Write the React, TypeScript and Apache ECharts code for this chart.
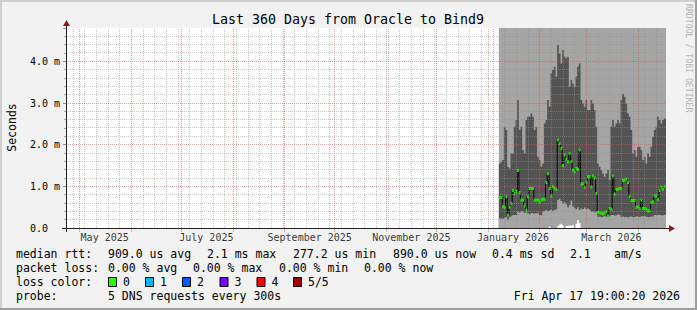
import React, { useEffect, useRef } from 'react';
import * as echarts from 'echarts';

const MONO = '"DejaVu Sans Mono", monospace';
const DAY = 86400000;
const START = Date.UTC(2025, 3, 22, 19, 0, 0);
const END = Date.UTC(2026, 3, 17, 19, 0, 0);
const DATA_START = Date.UTC(2026, 0, 7, 12, 0, 0);

const title = 'Last 360 Days from Oracle to Bind9';
const yUnitTitle = 'Seconds';
const monthLabels = ['May 2025', 'July 2025', 'September 2025', 'November 2025', 'January 2026', 'March 2026'];
const monthLabelYM = [[2025, 4], [2025, 6], [2025, 8], [2025, 10], [2026, 0], [2026, 2]];

// top of the dark smoke band (ms), one value per day from Jan 7 2026
const smokeHigh = [
  1.55, 1.59, 1.63, 2.43, 2.35, 1.47, 1.43, 1.79, 1.79, 2.43,
  2.59, 3.07, 2.35, 2.43, 1.87, 1.79, 2.59, 2.67, 2.67, 2.75,
  2.67, 2.35, 2.43, 1.71, 1.63, 1.47, 1.55, 2.51, 2.59, 3.07,
  2.91, 3.71, 3.79, 3.87, 3.63, 4.39, 4.19, 3.95, 4.27, 4.11,
  4.07, 4.11, 3.39, 3.55, 3.47, 3.39, 3.63, 3.87, 3.95, 3.07,
  2.99, 2.91, 3.07, 2.83, 2.83, 3.07, 2.99, 2.83, 2.43, 1.55,
  1.47, 1.39, 1.31, 1.23, 1.31, 1.39, 1.15, 2.43, 2.59, 2.43,
  2.51, 2.59, 2.51, 3.07, 3.22, 3.15, 2.99, 2.75, 2.67, 2.35,
  1.79, 1.87, 1.71, 1.95, 1.95, 1.87, 1.63, 1.71, 1.55, 1.79,
  1.71, 1.95, 2.19, 2.35, 2.43, 2.67, 2.59, 2.51, 2.59, 2.63,
];
// top of the lower light smoke band (ms)
const smokeLow = [
  0.23, 0.23, 0.22, 0.24, 0.26, 0.20, 0.26, 0.28, 0.31, 0.31,
  0.31, 0.39, 0.37, 0.40, 0.39, 0.36, 0.38, 0.35, 0.33, 0.36,
  0.35, 0.34, 0.36, 0.35, 0.31, 0.30, 0.39, 0.41, 0.43, 0.40,
  0.42, 0.44, 0.41, 0.43, 0.45, 0.67, 0.70, 0.65, 0.59, 0.62,
  0.57, 0.50, 0.55, 0.66, 0.52, 0.48, 0.45, 0.50, 0.43, 0.47,
  0.45, 0.49, 0.46, 0.47, 0.44, 0.39, 0.40, 0.38, 0.39, 0.27,
  0.28, 0.26, 0.27, 0.29, 0.27, 0.26, 0.28, 0.31, 0.32, 0.30,
  0.31, 0.33, 0.31, 0.27, 0.28, 0.26, 0.27, 0.25, 0.27, 0.28,
  0.26, 0.27, 0.28, 0.27, 0.26, 0.28, 0.27, 0.29, 0.27, 0.26,
  0.27, 0.28, 0.27, 0.31, 0.30, 0.32, 0.31, 0.30, 0.31, 0.32,
];
// white gap at the very bottom (ms)
const smokeFloor = [
  0, 0, 0, 0, 0, 0, 0, 0, 0, 0,
  0, 0, 0, 0, 0, 0, 0, 0, 0, 0,
  0, 0, 0, 0, 0, 0, 0, 0, 0, 0,
  0.03, 0, 0, 0, 0, 0.04, 0.08, 0.10, 0.06, 0,
  0.05, 0.04, 0.06, 0.05, 0.07, 0, 0.10, 0.19, 0.12, 0,
  0, 0, 0, 0, 0, 0, 0, 0, 0, 0,
  0, 0, 0, 0, 0, 0, 0, 0, 0, 0,
  0, 0, 0, 0, 0, 0, 0, 0, 0, 0,
  0, 0, 0, 0, 0, 0, 0, 0, 0, 0,
  0, 0, 0, 0, 0, 0, 0, 0, 0, 0,
];
// median rtt (ms)
const medianRtt = [
  0.73, 0.73, 0.51, 0.50, 0.75, 0.31, 0.50, 0.59, 0.90, 0.83,
  0.88, 1.38, 0.85, 0.67, 0.67, 0.53, 0.43, 0.75, 0.95, 0.95,
  0.95, 0.67, 0.67, 0.67, 0.63, 0.67, 0.69, 0.69, 1.09, 1.30,
  0.95, 0.77, 0.99, 0.95, 0.93, 2.11, 2.03, 1.91, 1.50, 1.75,
  1.65, 1.59, 1.79, 1.59, 1.39, 1.35, 1.43, 1.41, 1.87, 1.06,
  1.06, 0.98, 1.10, 1.23, 1.23, 0.99, 1.25, 1.20, 0.83, 0.38,
  0.37, 0.35, 0.34, 0.36, 0.39, 0.29, 0.47, 0.45, 1.25, 0.82,
  0.93, 0.93, 0.95, 0.95, 1.14, 1.15, 1.17, 1.09, 0.75, 0.66,
  0.66, 0.66, 0.50, 0.51, 0.47, 0.67, 0.47, 0.47, 0.45, 0.41,
  0.41, 0.61, 0.63, 0.77, 0.77, 0.69, 0.90, 0.98, 0.93, 0.99,
];

const legendRows = [
  { y: 254, items: [[16, 'median rtt:'], [108, '909.0 us avg'], [207, '2.1 ms max'], [293, '277.2 us min'], [393, '890.0 us now'], [492, '0.4 ms sd'], [570, '2.1'], [614, 'am/s']] },
  { y: 268, items: [[16, 'packet loss:'], [108, '0.00 % avg'], [193, '0.00 % max'], [279, '0.00 % min'], [364, '0.00 % now']] },
  { y: 282, items: [[16, 'loss color:']] },
  { y: 296, items: [[16, 'probe:'], [108, '5 DNS requests every 300s']] },
];
const lossLabels = ['0', '1', '2', '3', '4', '5/5'];
const lossColors = ['#26ff00', '#00b8ff', '#0059ff', '#7e00ff', '#ff0000', '#a10000'];
const lossBoxX = [108, 145, 182, 219.5, 256.5, 293];
const stampText = 'Fri Apr 17 19:00:20 2026';
const watermark = 'RRDTOOL / TOBI OETIKER';

const Y_MAX = 4.8;
const GX = 66, GY = 28, GW = 600, GH = 200;
const GRID_MINOR = 'rgba(143,143,143,0.5)';
const GRID_MAJOR = 'rgba(222,79,79,0.55)';
const LIGHT = '#a5a5a5';
const DARK = '#545454';

// snap grid-line positions onto pixel centres so the dotted lines stay crisp
function snapT(t: number) {
  const x = GX + ((t - START) / (END - START)) * GW;
  const xs = Math.round(x - 0.5) + 0.5;
  return START + ((xs - GX) / GW) * (END - START);
}
function snapV(v: number) {
  const y = GY + GH - (v / Y_MAX) * GH;
  const ys = Math.round(y - 0.5) + 0.5;
  return ((GY + GH - ys) / GH) * Y_MAX;
}

function toStep(arr: number[]) {
  const d = arr.map((v, i) => [DATA_START + i * DAY, v]);
  d.push([END, arr[arr.length - 1]]);
  return d;
}

function areaSeries(name: string, arr: number[], color: string) {
  return {
    name,
    type: 'line',
    step: 'end',
    data: toStep(arr),
    showSymbol: false,
    symbol: 'none',
    lineStyle: { width: 0, opacity: 0 },
    areaStyle: { color, opacity: 1 },
    z: 2,
    silent: true,
  };
}

export default function App() {
  const ref = useRef<HTMLDivElement>(null);
  useEffect(() => {
    if (!ref.current) return;
    const chart = echarts.init(ref.current, undefined, { renderer: 'svg' });

    const gridLines: any[] = [];
    const monthStarts: number[] = [];
    for (let k = 0; k < 12; k++) monthStarts.push(Date.UTC(2025, 4 + k, 1));
    // weekly (Sunday) minor lines
    for (let t = Date.UTC(2025, 3, 27); t < END; t += 7 * DAY) {
      if (new Date(t).getUTCDate() === 1) continue;
      gridLines.push({ xAxis: snapT(t) });
    }
    for (let k = 1; k <= 24; k++) {
      if (k % 5 === 0) continue;
      gridLines.push({ yAxis: snapV(k * 0.2) });
    }
    const majorStyle = { color: GRID_MAJOR, type: [1, 1], width: 1 };
    monthStarts.forEach((t) => gridLines.push({ xAxis: snapT(t), lineStyle: majorStyle }));
    [1, 2, 3, 4].forEach((v) => gridLines.push({ yAxis: snapV(v), lineStyle: majorStyle }));

    const graphic: any[] = [];
    const txt = (x: number, y: number, text: string, size: number, extra: any = {}) => ({
      type: 'text', x, y, z: 100,
      style: { text, fontFamily: MONO, fontSize: size, fill: '#000', align: 'left', verticalAlign: 'middle', textAlign: 'left', textVerticalAlign: 'middle', ...extra },
    });
    // frame
    graphic.push({ type: 'rect', z: 100, shape: { x: 0, y: 0, width: 697, height: 2 }, style: { fill: '#cfcfcf' } });
    graphic.push({ type: 'rect', z: 100, shape: { x: 0, y: 0, width: 2, height: 310 }, style: { fill: '#cfcfcf' } });
    graphic.push({ type: 'rect', z: 100, shape: { x: 0, y: 308, width: 697, height: 2 }, style: { fill: '#9e9e9e' } });
    graphic.push({ type: 'rect', z: 100, shape: { x: 695, y: 0, width: 2, height: 310 }, style: { fill: '#9e9e9e' } });
    // axes
    graphic.push({ type: 'line', z: 100, shape: { x1: 62, y1: 228.5, x2: 670, y2: 228.5 }, style: { stroke: '#1f1f1f', lineWidth: 1 } });
    graphic.push({ type: 'line', z: 100, shape: { x1: 66.5, y1: 232, x2: 66.5, y2: 25 }, style: { stroke: '#1f1f1f', lineWidth: 1 } });
    graphic.push({ type: 'polygon', z: 101, shape: { points: [[669, 225], [669, 232], [675, 228.5]] }, style: { fill: '#801f1f' } });
    graphic.push({ type: 'polygon', z: 101, shape: { points: [[63, 26], [70, 26], [66.5, 20]] }, style: { fill: '#801f1f' } });
    // titles
    graphic.push(txt(348, 19, title, 13.3, { align: 'center', textAlign: 'center' }));
    graphic.push({ ...txt(11.5, 127.5, yUnitTitle, 11.5, { align: 'center', textAlign: 'center' }), rotation: Math.PI / 2 });
    graphic.push({ ...txt(688.5, 4, watermark, 8.2, { fill: '#b4b4b4' }), rotation: -Math.PI / 2 });
    // legend
    legendRows.forEach((row) => row.items.forEach(([x, s]) => graphic.push(txt(x as number, row.y, s as string, 11.5))));
    lossLabels.forEach((lab, k) => {
      graphic.push({ type: 'rect', z: 100, shape: { x: lossBoxX[k] + 0.5, y: 277.5, width: 8, height: 9 }, style: { fill: lossColors[k], stroke: '#000', lineWidth: 1 } });
      graphic.push(txt(lossBoxX[k] + 15, 282, lab, 11.5));
    });
    graphic.push(txt(680, 296, stampText, 11.5, { align: 'right', textAlign: 'right' }));

    const option: any = {
      animation: false,
      backgroundColor: 'transparent',
      grid: { left: GX, top: GY, width: GW, height: GH, show: true, backgroundColor: '#ffffff', borderWidth: 0 },
      xAxis: {
        type: 'time', min: START, max: END,
        axisLine: { show: false }, axisTick: { show: false }, axisLabel: { show: false }, splitLine: { show: false },
      },
      yAxis: {
        type: 'value', min: 0, max: Y_MAX, interval: 1,
        axisLine: { show: false },
        axisTick: { show: true, length: 3, lineStyle: { color: '#8f8f8f' } },
        minorTick: { show: true, splitNumber: 5, length: 2, lineStyle: { color: '#a8a8a8' } },
        splitLine: { show: false }, minorSplitLine: { show: false },
        axisLabel: {
          margin: 36, align: 'left', fontFamily: MONO, fontSize: 10, color: '#000',
          formatter: (v: number) => (v === 0 ? '0.0' : Number.isInteger(v) ? `${v.toFixed(1)} m` : ''),
        },
      },
      graphic,
      series: [
        {
          name: 'smokeTop', type: 'line', data: [], z: 1, silent: true,
          markArea: {
            silent: true, itemStyle: { color: LIGHT, opacity: 1 },
            data: [[{ xAxis: DATA_START, yAxis: 0 }, { xAxis: END, yAxis: Y_MAX }]],
          },
        },
        areaSeries('smokeHigh', smokeHigh, DARK),
        areaSeries('smokeLow', smokeLow, LIGHT),
        areaSeries('smokeFloor', smokeFloor, '#ffffff'),
        {
          name: 'grid', type: 'line', data: [], z: 3, silent: true,
          markLine: {
            silent: true, symbol: ['none', 'none'], label: { show: false }, animation: false,
            lineStyle: { color: GRID_MINOR, type: [1, 1], width: 1 },
            data: gridLines,
          },
        },
        {
          name: 'monthTicks', type: 'scatter', symbol: 'rect', symbolSize: [1, 3], symbolOffset: [0, 2.5],
          clip: false, z: 3, silent: true, itemStyle: { color: GRID_MAJOR },
          data: monthStarts.map((t) => [snapT(t), 0]),
        },
        {
          name: 'medianLine', type: 'line', step: 'end', data: toStep(medianRtt), showSymbol: false, symbol: 'none',
          lineStyle: { color: '#000', width: 1 }, z: 4, silent: true,
        },
        {
          name: 'median', type: 'scatter', symbol: 'rect', symbolSize: [2, 3], z: 5, silent: true,
          itemStyle: { color: lossColors[0] },
          data: medianRtt.map((v, i) => [DATA_START + (i + 0.5) * DAY, v]),
        },
        {
          name: 'monthLabels', type: 'scatter', symbolSize: 1, z: 5, silent: true,
          itemStyle: { color: 'transparent' },
          label: { show: true, position: 'bottom', distance: 4, formatter: '{b}', fontFamily: MONO, fontSize: 10, color: '#000' },
          data: monthLabels.map((name, k) => ({ name, value: [Date.UTC(monthLabelYM[k][0], monthLabelYM[k][1], 16), 0] })),
        },
      ],
    };
    chart.setOption(option);
    return () => chart.dispose();
  }, []);

  return (
    <div style={{ position: 'absolute', left: 0, top: 0, width: 697, height: 310, background: '#f2f2f2' }}>
      <div ref={ref} style={{ width: 697, height: 310 }} />
    </div>
  );
}
